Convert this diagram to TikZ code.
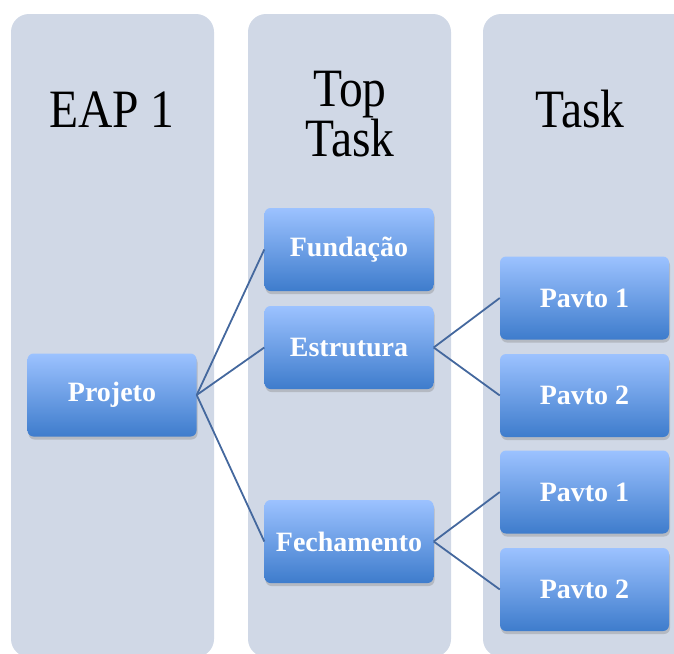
\documentclass[tikz,border=0pt]{standalone}
\usepackage{fontspec}
\setmainfont{Liberation Serif}
\newfontfamily\headfont[FakeStretch=0.88]{Liberation Serif}
\usetikzlibrary{shadows}
\definecolor{colbg}{HTML}{D0D8E6}
\definecolor{boxtop}{HTML}{9CC2FF}
\definecolor{boxbot}{HTML}{3E7CCC}
\definecolor{linkc}{HTML}{44689E}
\tikzset{
  column/.style={fill=colbg, rounded corners=18pt},
  taskbox/.style={rectangle, rounded corners=6pt, minimum width=169pt, minimum height=83pt,
    top color=boxtop, bottom color=boxbot,
    drop shadow={opacity=0.35, shadow xshift=1pt, shadow yshift=-3pt},
    text=white, font=\fontsize{28}{30}\selectfont\bfseries, inner sep=0pt},
  header/.style={font=\headfont\fontsize{54}{56}\selectfont, text=black, anchor=base, inner sep=0pt},
  link/.style={draw=linkc, line width=1.8pt}
}
\begin{document}
\begin{tikzpicture}[x=1pt,y=1pt]
\useasboundingbox (0,0) rectangle (674,-653);
\begin{scope}
\clip (0,0) rectangle (674,-653);
\fill[column] (11,-14) rectangle (214,-657);
\fill[column] (248,-14) rectangle (451,-657);
\fill[column] (483,-14) rectangle (720,-657);
\end{scope}
\node[header] (h1) at (112,-127) {EAP 1};
\node[header] (h2a) at (350,-106) {Top};
\node[header] (h2b) at (350,-156) {Task};
\node[header] (h3) at (580,-127) {Task};

\node[taskbox] (proj) at (112,-395) {Projeto};
\node[taskbox] (fund) at (349,-249.5) {Fundação};
\node[taskbox] (estr) at (349,-347.5) {Estrutura};
\node[taskbox] (fech) at (349,-541.5) {Fechamento};
\node[taskbox] (p1a) at (584.5,-298) {Pavto 1};
\node[taskbox] (p2a) at (584.5,-395.5) {Pavto 2};
\node[taskbox] (p1b) at (584.5,-492) {Pavto 1};
\node[taskbox] (p2b) at (584.5,-589.5) {Pavto 2};

\draw[link] (proj.east) -- (fund.west);
\draw[link] (proj.east) -- (estr.west);
\draw[link] (proj.east) -- (fech.west);
\draw[link] (estr.east) -- (p1a.west);
\draw[link] (estr.east) -- (p2a.west);
\draw[link] (fech.east) -- (p1b.west);
\draw[link] (fech.east) -- (p2b.west);
\end{tikzpicture}
\end{document}
